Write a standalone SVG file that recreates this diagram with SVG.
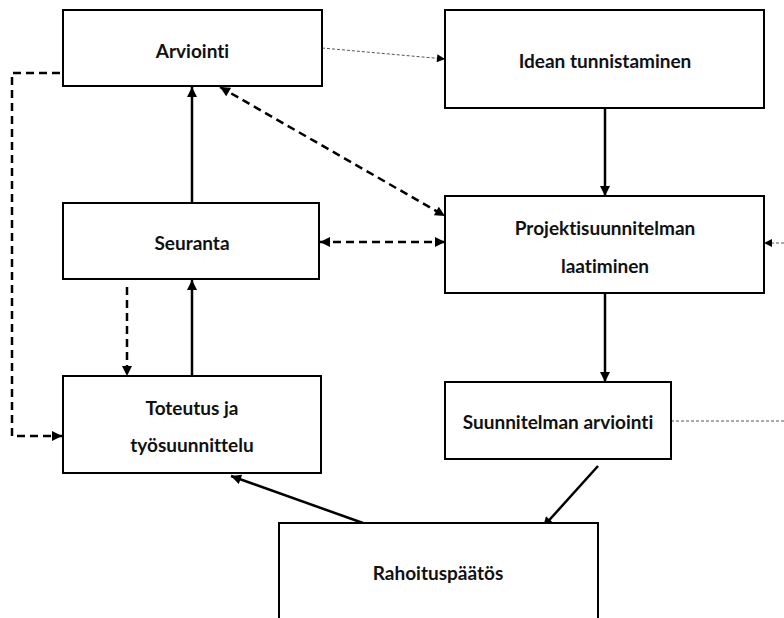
<svg xmlns="http://www.w3.org/2000/svg" width="784" height="618" viewBox="0 0 784 618">
<style>
.box{fill:#fff;stroke:#000;stroke-width:2}
.t{font-family:Lato,"Liberation Sans",sans-serif;font-weight:bold;font-size:19px;fill:#111;text-anchor:middle;font-variant-ligatures:none}
.s{fill:none;stroke:#000;stroke-width:2.5}
.d{fill:none;stroke:#000;stroke-width:2.5;stroke-dasharray:8,5}
.th{fill:none;stroke:#555;stroke-width:1;stroke-dasharray:3,2}
</style>
<defs>
<marker id="ah" viewBox="0 0 10 10" refX="10" refY="5" markerWidth="11" markerHeight="10" orient="auto-start-reverse" markerUnits="userSpaceOnUse"><path d="M0,0 L10,5 L0,10 z" fill="#000"/></marker>
<marker id="ahs" viewBox="0 0 10 10" refX="10" refY="5" markerWidth="9" markerHeight="8" orient="auto-start-reverse" markerUnits="userSpaceOnUse"><path d="M0,0 L10,5 L0,10 z" fill="#000"/></marker>
</defs>
<g id="connectors">
<path class="th" d="M322,48 L445,59" marker-end="url(#ahs)"/>
<path class="s" d="M605,108 V196" marker-end="url(#ah)"/>
<path class="s" d="M605,293 V382" marker-end="url(#ah)"/>
<path class="s" d="M598,466 L543,527" marker-end="url(#ah)"/>
<path class="s" d="M363,523 L231,476" marker-end="url(#ah)"/>
<path class="s" d="M192,376 V280" marker-end="url(#ah)"/>
<path class="s" d="M192,203 V87" marker-end="url(#ah)"/>
<path class="d" d="M320,242 H445" marker-start="url(#ah)" marker-end="url(#ah)"/>
<path class="d" d="M220,87 L445,216" marker-start="url(#ah)" marker-end="url(#ah)"/>
<path class="d" d="M127,287 V376" marker-end="url(#ah)"/>
<path class="d" d="M60,73 H12 V436 H62" marker-end="url(#ah)"/>
<path class="th" d="M671,421 H784"/>
<path class="th" d="M784,243 H764" marker-end="url(#ahs)"/>
</g>
<g id="arviointi"><rect class="box" x="63" y="10" width="259" height="76"/><text class="t" x="192.5" y="58">Arviointi</text></g>
<g id="idean"><rect class="box" x="445" y="10" width="319" height="98"/><text class="t" x="605" y="68">Idean tunnistaminen</text></g>
<g id="projekti"><rect class="box" x="445" y="196" width="319" height="97"/><text class="t" x="605" y="235">Projektisuunnitelman</text><text class="t" x="605" y="273">laatiminen</text></g>
<g id="seuranta"><rect class="box" x="63" y="203" width="256" height="76"/><text class="t" x="192" y="250">Seuranta</text></g>
<g id="toteutus"><rect class="box" x="63" y="376" width="258" height="97"/><text class="t" x="192" y="415">Toteutus ja</text><text class="t" x="192" y="452">työsuunnittelu</text></g>
<g id="suunnitelman"><rect class="box" x="445" y="382" width="226" height="77"/><text class="t" x="558" y="429">Suunnitelman arviointi</text></g>
<g id="rahoitus"><rect class="box" x="279" y="523" width="319" height="110"/><text class="t" x="438" y="580">Rahoituspäätös</text></g>
</svg>
